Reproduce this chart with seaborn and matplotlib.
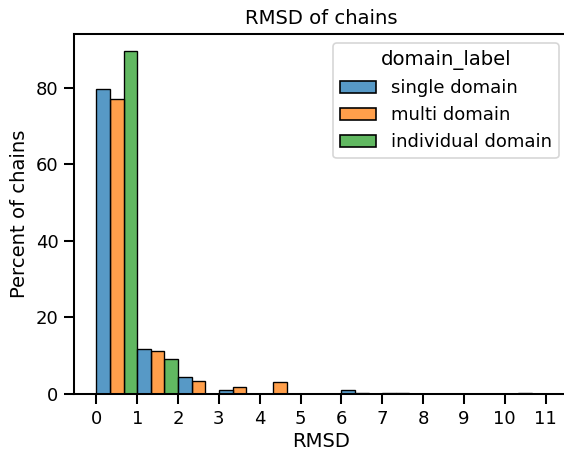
import numpy as np
import pandas as pd
import matplotlib
matplotlib.use("Agg")
import matplotlib.pyplot as plt
import seaborn as sns

# Data (percent of chains per RMSD bin of width 1)
bin_centers = [0.5, 1.5, 2.5, 3.5, 4.5, 5.5, 6.5, 7.5, 8.5, 9.5, 10.5]
single_domain = [79.6, 11.85, 4.4, 1.0, 0.0, 0.0, 1.0, 0.3, 0.1, 0.0, 0.0]
multi_domain = [77.1, 11.3, 3.5, 1.9, 3.1, 0.0, 0.3, 0.3, 0.0, 0.0, 0.3]
individual_domain = [89.5, 9.2, 0.0, 0.0, 0.0, 0.0, 0.0, 0.0, 0.0, 0.0, 0.0]
labels = ["single domain", "multi domain", "individual domain"]
x_ticks = list(range(12))

rows = []
for lab, vals in zip(labels, [single_domain, multi_domain, individual_domain]):
    for c, v in zip(bin_centers, vals):
        rows.append({"RMSD": c, "pct": v, "domain_label": lab})
df = pd.DataFrame(rows)

sns.set_context("notebook")
dpi = 118
fig = plt.figure(figsize=(564 / dpi, 450 / dpi), dpi=dpi)
ax = fig.add_axes([74 / 564, 1 - 394 / 450, (568 - 74) / 564, (394 - 34) / 450])

sns.histplot(data=df, x="RMSD", weights="pct", hue="domain_label",
             hue_order=labels, binwidth=1, binrange=(0, 11), multiple="dodge",
             stat="count", palette="tab10", ax=ax)
ax.set_xticks(x_ticks)
ax.set_ylabel("Percent of chains")
ax.set_xlabel("RMSD", labelpad=3)
ax.set_title("RMSD of chains")

fig.savefig("out.png", dpi=dpi)
